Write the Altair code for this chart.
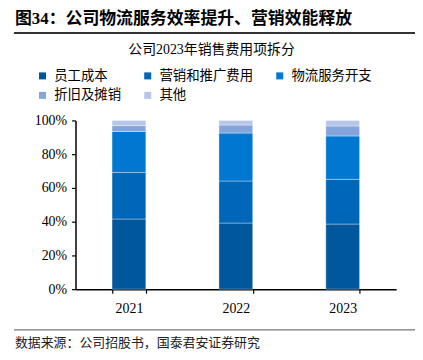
import altair as alt
import pandas as pd

years = ["2021", "2022", "2023"]
categories = ["员工成本", "营销和推广费用", "物流服务开支", "折旧及摊销", "其他"]
colors = ["#00579C", "#0066B8", "#0078D2", "#84A4DC", "#B6C7EA"]
share = {
    "员工成本": [41.6, 39.2, 38.6],
    "营销和推广费用": [27.6, 24.9, 26.5],
    "物流服务开支": [24.3, 28.4, 25.7],
    "折旧及摊销": [3.4, 4.8, 5.9],
    "其他": [3.1, 2.7, 3.3],
}
y_ticks = [0, 0.2, 0.4, 0.6, 0.8, 1.0]

headline = "图34：公司物流服务效率提升、营销效能释放"
chart_title = "公司2023年销售费用项拆分"
source = "数据来源：公司招股书，国泰君安证券研究"

FONT = "Liberation Serif, Noto Sans CJK SC"

rows = []
for ci, c in enumerate(categories):
    for yi, y in enumerate(years):
        rows.append({"year": y, "cat": c, "idx": ci, "v": share[c][yi]})
df = pd.DataFrame(rows)

bars = alt.Chart(df).mark_bar(stroke="white", strokeWidth=0.6, strokeOpacity=0.6).encode(
    x=alt.X("year:N", title=None,
            scale=alt.Scale(paddingInner=0.684, paddingOuter=0.342),
            axis=alt.Axis(labelAngle=0, tickBand="extent", tickSize=4, labelPadding=8,
                          labelFontSize=14, labelFont=FONT, labelColor="black",
                          domainColor="black", tickColor="black", domainWidth=1.5,
                          tickWidth=1.2)),
    y=alt.Y("v:Q", stack="normalize", title=None,
            scale=alt.Scale(domain=[0, 1]),
            axis=alt.Axis(values=y_ticks, format=".0%", grid=False, tickSize=4,
                          labelPadding=5, labelFontSize=14, labelFont=FONT,
                          labelColor="black", domainColor="black", tickColor="black",
                          domainWidth=1.5, tickWidth=1.2)),
    color=alt.Color("cat:N", scale=alt.Scale(domain=categories, range=colors),
                    legend=alt.Legend(title=None, orient="none", legendX=-40, legendY=-52,
                                      direction="horizontal", columns=3, gridAlign="each",
                                      columnPadding=20, rowPadding=5,
                                      symbolType="square", symbolSize=50,
                                      symbolStrokeWidth=0, labelOffset=5,
                                      labelFontSize=13.5, labelFont=FONT,
                                      labelColor="black", labelLimit=200)),
    order=alt.Order("idx:Q", sort="ascending"),
)

rule_top = alt.Chart(pd.DataFrame({"k": [1]})).mark_rule(color="#333333", strokeWidth=2).encode(
    x=alt.value(-62), x2=alt.value(342), y=alt.value(-88))
rule_bot = alt.Chart(pd.DataFrame({"k": [2]})).mark_rule(color="#777777", strokeWidth=1.2).encode(
    x=alt.value(-62), x2=alt.value(342), y=alt.value(211))

head = alt.Chart(pd.DataFrame({"t": [headline]})).mark_text(
    align="left", baseline="middle", fontSize=17, fontWeight="bold", font=FONT,
    color="black").encode(text="t:N", x=alt.value(-61), y=alt.value(-102))

ttl = alt.Chart(pd.DataFrame({"t": [chart_title]})).mark_text(
    align="center", baseline="middle", fontSize=14, font=FONT, color="black").encode(
    text="t:N", x=alt.value(137), y=alt.value(-71))

src = alt.Chart(pd.DataFrame({"t": [source]})).mark_text(
    align="left", baseline="middle", fontSize=13, font=FONT, color="#222222").encode(
    text="t:N", x=alt.value(-61), y=alt.value(224))

chart = alt.layer(bars, rule_top, rule_bot, head, ttl, src).properties(
    width=323, height=170,
    autosize=alt.AutoSizeParams(type="none"),
    padding={"left": 68, "top": 112, "right": 19, "bottom": 60},
).configure_view(stroke=None)

chart.save("out.html", embed_options={"renderer": "svg", "actions": False})
